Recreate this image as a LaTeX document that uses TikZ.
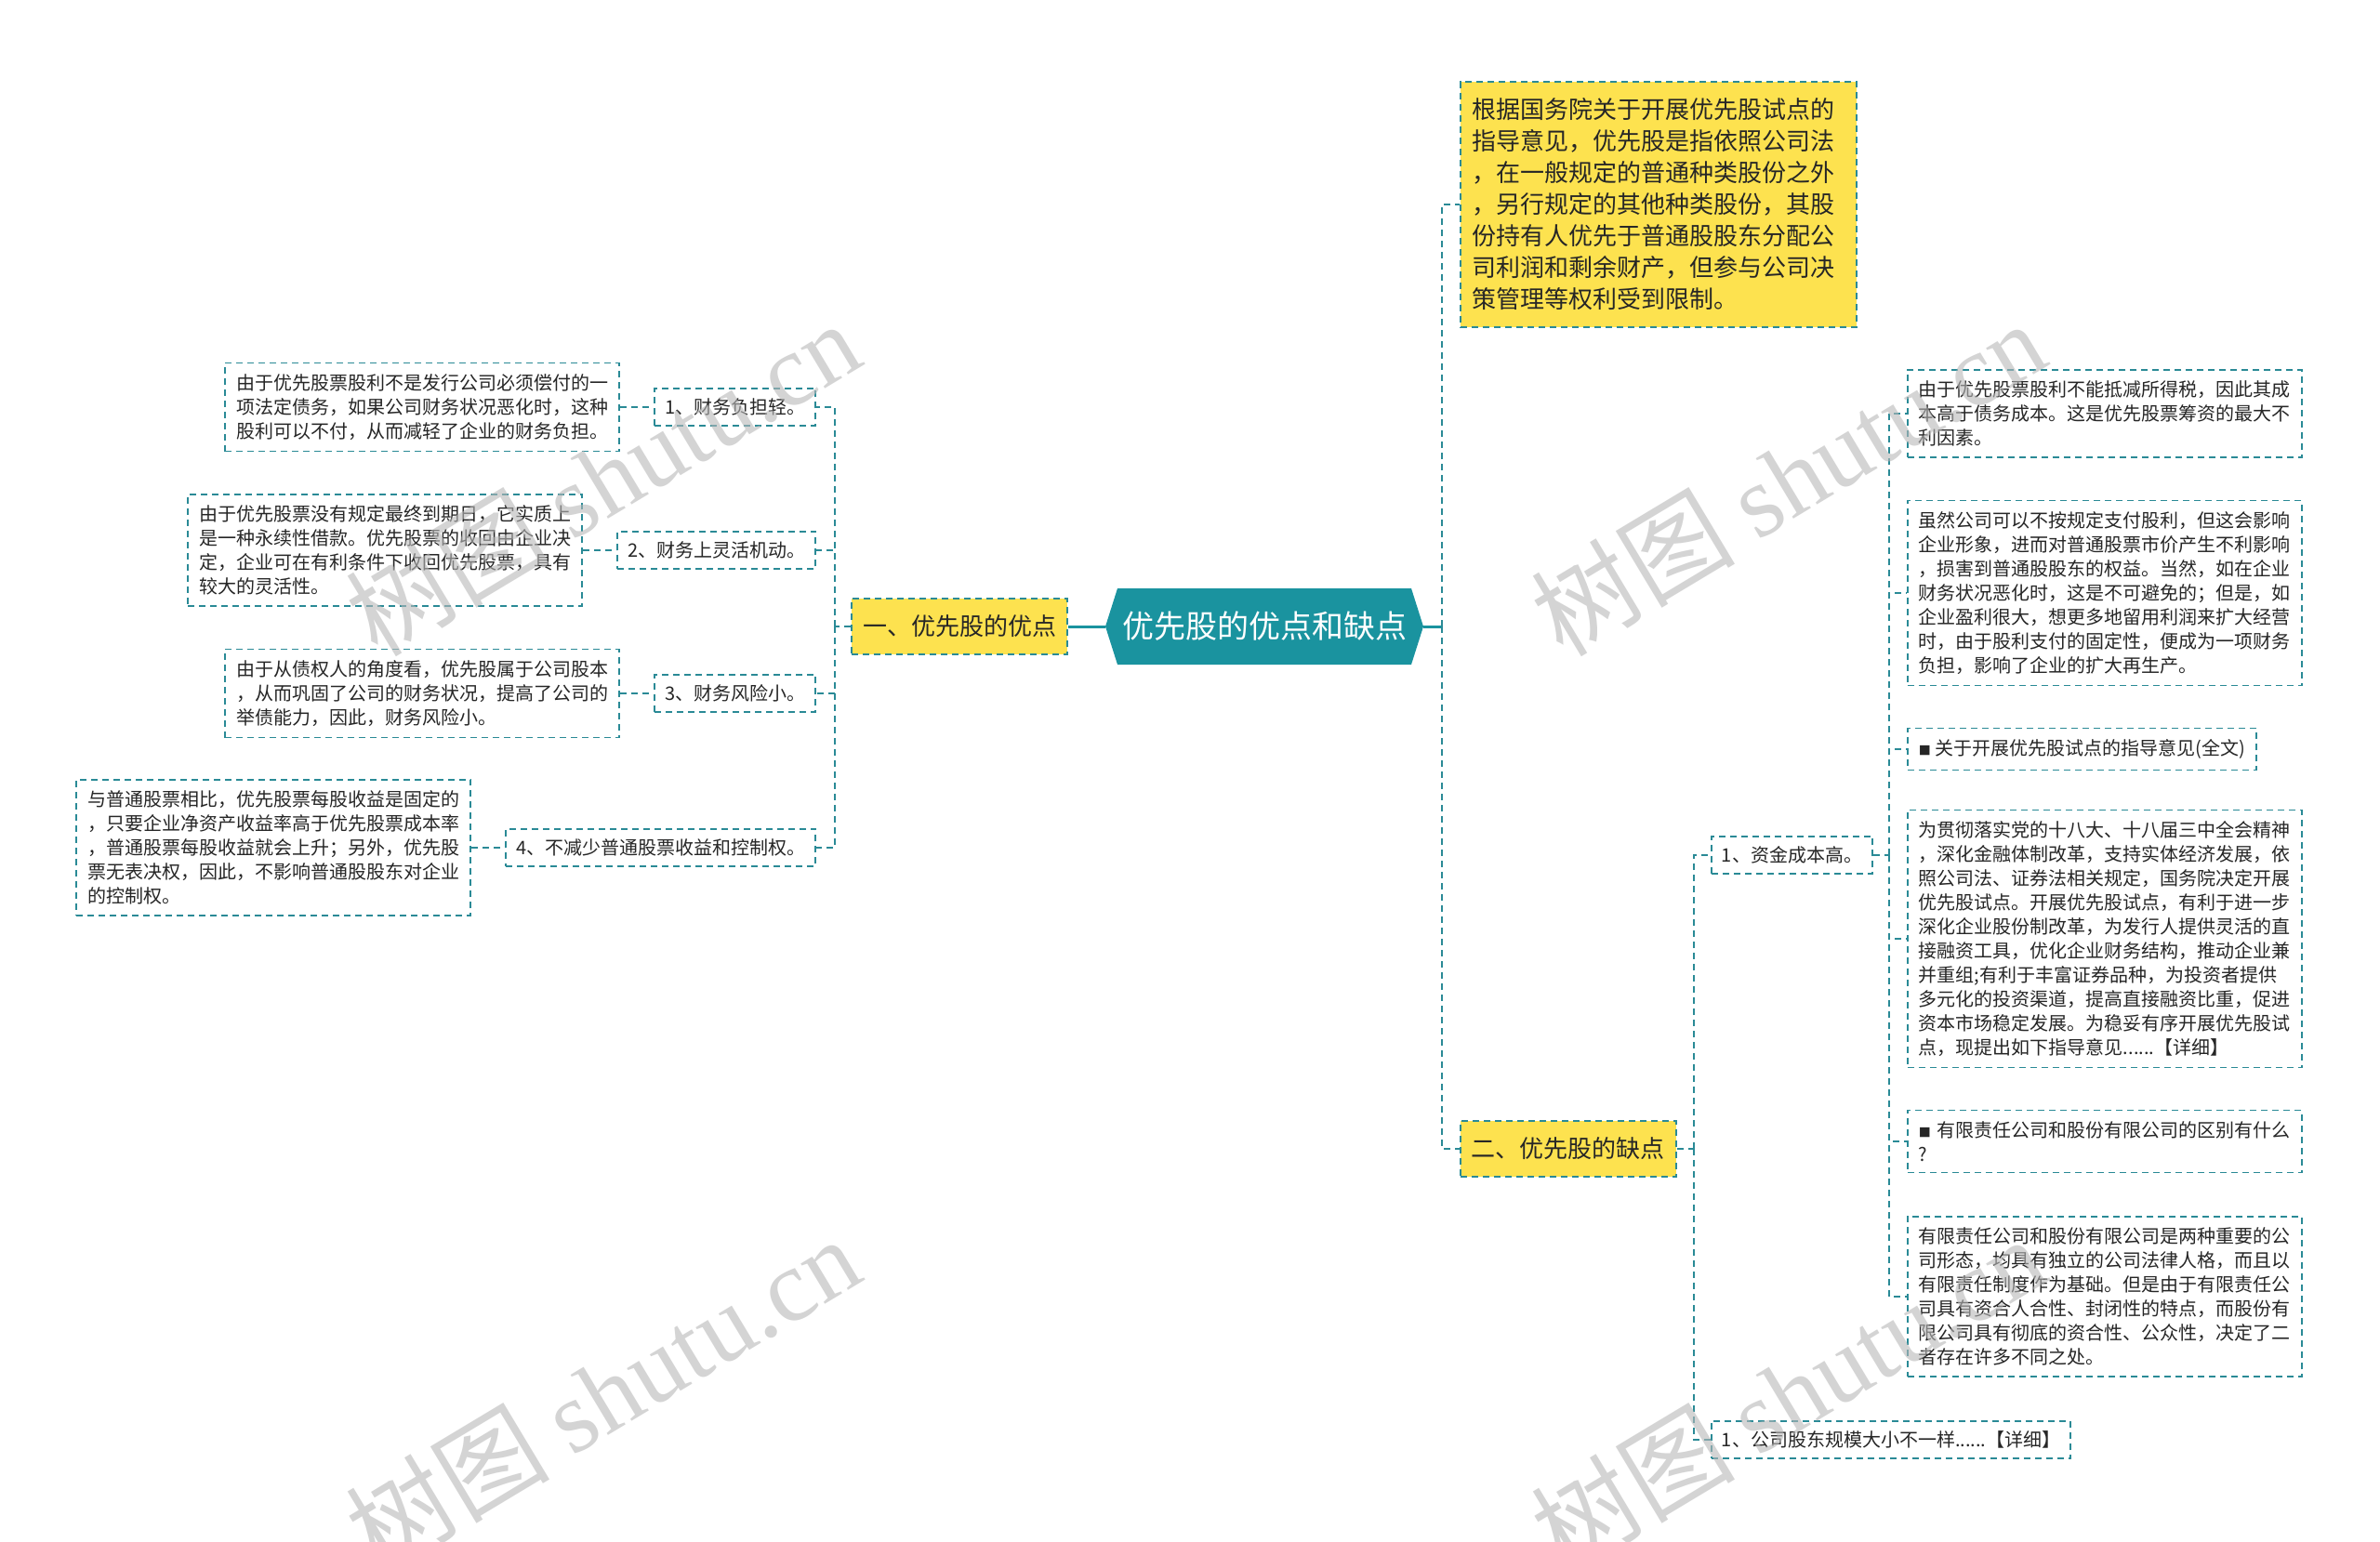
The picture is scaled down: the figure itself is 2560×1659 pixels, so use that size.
\documentclass[tikz,border=0pt]{standalone}
\usepackage{fontspec}
\setmainfont{Noto Sans CJK SC}
\newfontfamily\wmlatin{Liberation Serif}
\usetikzlibrary{calc}
\definecolor{tealc}{HTML}{1A939F}
\definecolor{dashc}{HTML}{2A8A96}
\definecolor{yel}{HTML}{FDE24F}
\definecolor{txt}{HTML}{262626}
\definecolor{wm}{HTML}{B8B8B8}
\newcommand{\sq}{{\fontsize{13}{13}\selectfont ■}}
\begin{document}
\begin{tikzpicture}[x=1pt,y=-1pt,
  box/.style={draw=dashc, line width=1.8pt, dash pattern=on 7pt off 5pt, fill=white, text=txt,
    inner xsep=12pt, inner ysep=12pt, align=left, font=\fontsize{20}{26}\selectfont},
  leaf/.style={box, text width=400pt},
  sub/.style={box, inner xsep=11pt, inner ysep=11pt},
  mainbox/.style={box, fill=yel, inner xsep=12pt, inner ysep=18pt, font=\fontsize{26}{34}\selectfont},
  centernode/.style={text=white, font=\fontsize{34}{40}\selectfont, minimum width=342pt, minimum height=82pt, inner sep=0pt},
  conn/.style={draw=dashc, line width=1.8pt, dash pattern=on 7pt off 5pt},
  solidconn/.style={draw=tealc, line width=3pt},
  wmark/.style={text=wm, text opacity=0.6, rotate=31, font=\fontsize{110}{110}\selectfont}
]
\useasboundingbox (0,0) rectangle (2560,1659);
\fill[white] (0,0) rectangle (2560,1659);

% root
\coordinate (rc) at (1360,674);
\fill[tealc] ($(rc)+(-171,0)$) -- ($(rc)+(-158,-41)$) -- ($(rc)+(158,-41)$) -- ($(rc)+(171,0)$)
  -- ($(rc)+(158,41)$) -- ($(rc)+(-158,41)$) -- cycle;
\node[centernode] (root) at (rc) {优先股的优点和缺点};

% left side
\node[mainbox, anchor=east] (adv) at (1149,674) {一、优先股的优点};
\node[sub, anchor=east] (a1) at (878,438) {1、财务负担轻。};
\node[sub, anchor=east] (a2) at (878,592) {2、财务上灵活机动。};
\node[sub, anchor=east] (a3) at (878,746) {3、财务风险小。};
\node[sub, anchor=east] (a4) at (878,912) {4、不减少普通股票收益和控制权。};

\node[leaf, anchor=east] (l1) at ($(a1.west)+(-36,0)$) {由于优先股票股利不是发行公司必须偿付的一\\项法定债务，如果公司财务状况恶化时，这种\\股利可以不付，从而减轻了企业的财务负担。};
\node[leaf, anchor=east] (l2) at ($(a2.west)+(-36,0)$) {由于优先股票没有规定最终到期日，它实质上\\是一种永续性借款。优先股票的收回由企业决\\定，企业可在有利条件下收回优先股票，具有\\较大的灵活性。};
\node[leaf, anchor=east] (l3) at ($(a3.west)+(-36,0)$) {由于从债权人的角度看，优先股属于公司股本\\，从而巩固了公司的财务状况，提高了公司的\\举债能力，因此，财务风险小。};
\node[leaf, anchor=east] (l4) at ($(a4.west)+(-36,0)$) {与普通股票相比，优先股票每股收益是固定的\\，只要企业净资产收益率高于优先股票成本率\\，普通股票每股收益就会上升；另外，优先股\\票无表决权，因此，不影响普通股股东对企业\\的控制权。};

\coordinate (ltrunk) at (898,674);
\draw[solidconn] (adv.east) -- (root.west);
\draw[conn] (adv.west) -- (ltrunk);
\foreach \n in {a1,a2,a3,a4} \draw[conn] (ltrunk) |- (\n.east);
\draw[conn] (l1.east) -- (a1.west);
\draw[conn] (l2.east) -- (a2.west);
\draw[conn] (l3.east) -- (a3.west);
\draw[conn] (l4.east) -- (a4.west);

% right side
\node[mainbox, anchor=west, text width=400pt, inner xsep=13pt] (desc) at (1570,220) {根据国务院关于开展优先股试点的\\指导意见，优先股是指依照公司法\\，在一般规定的普通种类股份之外\\，另行规定的其他种类股份，其股\\份持有人优先于普通股股东分配公\\司利润和剩余财产，但参与公司决\\策管理等权利受到限制。};
\node[mainbox, anchor=west] (dis) at (1570,1236) {二、优先股的缺点};

\coordinate (rtrunk) at (1551,674);
\draw[solidconn] (root.east) -- (rtrunk);
\draw[conn] (rtrunk) |- (desc.west);
\draw[conn] (rtrunk) |- (dis.west);

\node[sub, anchor=west] (b1) at (1840,920) {1、资金成本高。};
\node[sub, anchor=west] (b2) at (1840,1549) {1、公司股东规模大小不一样......【详细】};
\coordinate (dtrunk) at (1822,1236);
\draw[conn] (dis.east) -- (dtrunk);
\draw[conn] (dtrunk) |- (b1.west);
\draw[conn] (dtrunk) |- (b2.west);

\node[leaf, anchor=west] (r1) at (2051,445) {由于优先股票股利不能抵减所得税，因此其成\\本高于债务成本。这是优先股票筹资的最大不\\利因素。};
\node[leaf, anchor=west] (r2) at (2051,638) {虽然公司可以不按规定支付股利，但这会影响\\企业形象，进而对普通股票市价产生不利影响\\，损害到普通股股东的权益。当然，如在企业\\财务状况恶化时，这是不可避免的；但是，如\\企业盈利很大，想更多地留用利润来扩大经营\\时，由于股利支付的固定性，便成为一项财务\\负担，影响了企业的扩大再生产。};
\node[box, anchor=west] (r3) at (2051,806) {\sq\ 关于开展优先股试点的指导意见(全文)};
\node[leaf, anchor=west] (r4) at (2051,1010) {为贯彻落实党的十八大、十八届三中全会精神\\，深化金融体制改革，支持实体经济发展，依\\照公司法、证券法相关规定，国务院决定开展\\优先股试点。开展优先股试点，有利于进一步\\深化企业股份制改革，为发行人提供灵活的直\\接融资工具，优化企业财务结构，推动企业兼\\并重组;有利于丰富证券品种，为投资者提供\\多元化的投资渠道，提高直接融资比重，促进\\资本市场稳定发展。为稳妥有序开展优先股试\\点，现提出如下指导意见......【详细】};
\node[leaf, anchor=west] (r5) at (2051,1228) {\sq\ 有限责任公司和股份有限公司的区别有什么\\?};
\node[leaf, anchor=west] (r6) at (2051,1395) {有限责任公司和股份有限公司是两种重要的公\\司形态，均具有独立的公司法律人格，而且以\\有限责任制度作为基础。但是由于有限责任公\\司具有资合人合性、封闭性的特点，而股份有\\限公司具有彻底的资合性、公众性，决定了二\\者存在许多不同之处。};

\coordinate (btrunk) at (2032,920);
\draw[conn] (b1.east) -- (btrunk);
\foreach \n in {r1,r2,r3,r4,r5,r6} \draw[conn] (btrunk) |- (\n.west);

% watermarks
\node[wmark] (w1) at (648,514) {树图 {\wmlatin shutu.cn}};
\node[wmark] (w2) at (648,1499) {树图 {\wmlatin shutu.cn}};
\node[wmark] (w3) at (1923,514) {树图 {\wmlatin shutu.cn}};
\node[wmark] (w4) at (1923,1499) {树图 {\wmlatin shutu.cn}};
\end{tikzpicture}
\end{document}
